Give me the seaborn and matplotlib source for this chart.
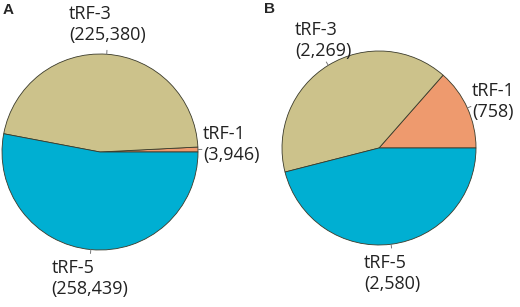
import numpy as np
import matplotlib
matplotlib.use("Agg")
import matplotlib.pyplot as plt
import seaborn as sns

sns.set_style("white")
plt.rcParams['font.family'] = ['Open Sans', 'DejaVu Sans']

labels = ["tRF-1", "tRF-3", "tRF-5"]
counts_a = [3946, 225380, 258439]
counts_b = [758, 2269, 2580]
colors = ["#EE9A6E", "#CCC28B", "#00AFD2"]

W, H = 520, 307
fig = plt.figure(figsize=(W / 100, H / 100), dpi=100)


def draw_pie(rect, counts, letter, letter_xy):
    ax = fig.add_axes(rect)
    wedges, _ = ax.pie(counts, colors=colors, startangle=0, counterclock=True,
                       wedgeprops=dict(edgecolor="#3a3a2a", linewidth=0.6))
    ax.set_xlim(-1, 1)
    ax.set_ylim(-1, 1)
    ax.set_aspect("equal")
    ax.axis("off")
    for w, lab, n in zip(wedges, labels, counts):
        mid = np.deg2rad((w.theta1 + w.theta2) / 2)
        c, s = np.cos(mid), np.sin(mid)
        ax.plot([c, 1.04 * c], [s, 1.04 * s], color="#777777", lw=0.7,
                clip_on=False)
        txt = f"{lab}\n({n:,})"
        if c > 0.8:
            ax.text(1.05 * c, 1.05 * s + 0.05, txt, ha="left", va="center",
                    multialignment="left", fontsize=13, linespacing=1.2,
                    color="#222222", clip_on=False)
        else:
            ax.text(1.1 * c, 1.3 * s, txt, ha="center", va="center",
                    multialignment="left", fontsize=13, linespacing=1.2,
                    color="#222222", clip_on=False)
    fig.text(letter_xy[0] / W, 1 - letter_xy[1] / H, letter, fontsize=11,
             fontweight="bold", ha="left", va="center",
             family=['Liberation Sans', 'DejaVu Sans'])


draw_pie([2 / W, 57 / H, 196 / W, 196 / H], counts_a, "A", (3, 10))
draw_pie([282 / W, 62 / H, 194 / W, 194 / H], counts_b, "B", (264, 9))

plt.savefig("out.png", dpi=100)
